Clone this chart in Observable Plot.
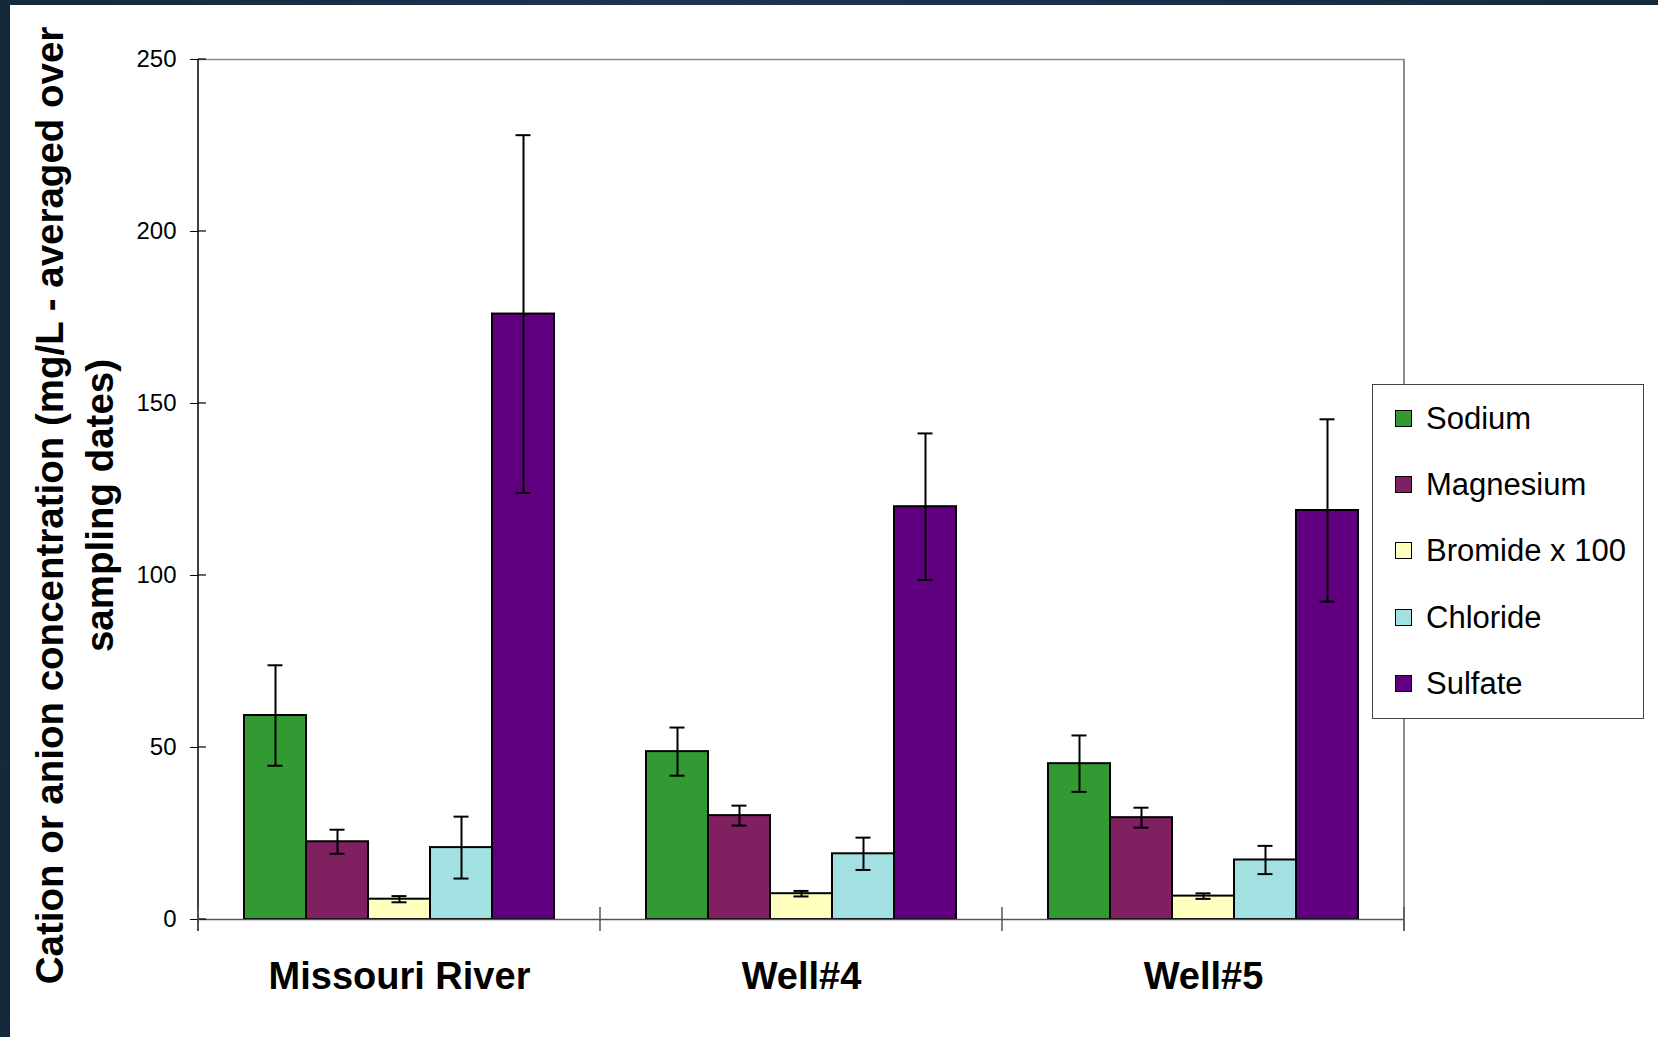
<!DOCTYPE html>
<html><head><meta charset="utf-8">
<script src="https://cdn.jsdelivr.net/npm/d3@7"></script>
<script src="https://cdn.jsdelivr.net/npm/@observablehq/plot@0.6"></script>
<style>
html,body{margin:0;padding:0;}
body{width:1658px;height:1037px;overflow:hidden;background:#1b2e44;font-family:"Liberation Sans",Arial,sans-serif;}
#page{position:relative;width:1658px;height:1037px;background:linear-gradient(90deg,#16283b,#1d3550 40%,#162a3e);}
#paper{position:absolute;left:10px;top:5px;right:0;bottom:0;background:#fff;}
#chart{position:absolute;left:0;top:0;width:1658px;height:1037px;}
#legend{position:absolute;left:1372px;top:384px;width:270px;height:333px;border:1.5px solid #444;background:#fff;}
.row{position:absolute;left:0;height:40px;}
.sw{position:absolute;left:22px;top:11px;width:15px;height:15px;border:1.5px solid #000;}
.lab{position:absolute;left:53px;top:0;line-height:40px;font-size:31px;color:#000;white-space:nowrap;}
</style>
</head><body>
<div id="page"><div id="paper"></div><div id="chart"></div><div id="legend"></div></div>
<script>
const sites = ["Missouri River", "Well#4", "Well#5"];
const ions = ["Sodium", "Magnesium", "Bromide x 100", "Chloride", "Sulfate"];
const colors = ["#339933", "#802060", "#ffffc0", "#a3e0e1", "#600080"];
const missouriRiver = [59.3, 22.6, 5.9, 20.9, 176.0];
const missouriRiverErr = [14.6, 3.5, 0.9, 9.0, 52.0];
const well4 = [48.8, 30.2, 7.5, 19.1, 120.0];
const well4Err = [7.0, 2.9, 0.8, 4.7, 21.3];
const well5 = [45.3, 29.6, 6.8, 17.3, 118.9];
const well5Err = [8.2, 2.9, 0.8, 4.1, 26.5];
const yTicks = [0, 50, 100, 150, 200, 250];
const yTitle1 = "Cation or anion concentration (mg/L - averaged over";
const yTitle2 = "sampling dates)";

(function () {
  const series = [[missouriRiver, missouriRiverErr], [well4, well4Err], [well5, well5Err]];
  const rows = [];
  sites.forEach((s, i) => ions.forEach((ion, j) => {
    const v = series[i][0][j], e = series[i][1][j];
    rows.push({site: s, ion, value: v, lo: v - e, hi: v + e});
  }));

  const plot = Plot.plot({
    width: 1658, height: 1037,
    marginLeft: 198, marginRight: 254, marginTop: 59, marginBottom: 118,
    style: {background: "transparent", fontFamily: "'Liberation Sans', Arial, sans-serif", color: "black", overflow: "visible"},
    fx: {domain: sites, padding: 0, axis: null},
    x: {domain: ions, paddingInner: 0, paddingOuter: 0.735, axis: null},
    y: {domain: [0, 250], axis: null},
    color: {domain: ions, range: colors},
    marks: [
      Plot.ruleY([250], {stroke: "#8c8c8c", strokeWidth: 1.5}),
      Plot.barY(rows, {fx: "site", x: "ion", y: "value", fill: "ion", stroke: "black", strokeWidth: 2}),
      Plot.ruleY([0], {stroke: "#555", strokeWidth: 1.5}),
      Plot.ruleX(rows, {fx: "site", x: "ion", y1: "lo", y2: "hi", stroke: "black", strokeWidth: 2}),
      Plot.tickY(rows, {fx: "site", x: "ion", y: "hi", insetLeft: 23.5, insetRight: 23.5, stroke: "black", strokeWidth: 2}),
      Plot.tickY(rows, {fx: "site", x: "ion", y: "lo", insetLeft: 23.5, insetRight: 23.5, stroke: "black", strokeWidth: 2}),
      Plot.axisY({ticks: yTicks, tickSize: 8, tickPadding: 14, fontSize: 24, label: null, stroke: "black", fill: "black"}),
      Plot.text(sites, {fx: d => d, text: d => d, frameAnchor: "bottom", dy: 69, fontSize: 38, fontWeight: "bold", fill: "black"})
    ]
  });
  document.getElementById("chart").appendChild(plot);

  const svg = d3.select(plot);
  const fxs = plot.scale("fx"), ys = plot.scale("y");
  const xLeft = fxs.apply(sites[0]);
  const xRight = fxs.apply(sites[sites.length - 1]) + fxs.bandwidth;
  const yTop = ys.apply(250), yBase = ys.apply(0);
  const g = svg.append("g");
  g.append("line").attr("x1", xRight).attr("x2", xRight).attr("y1", yTop).attr("y2", yBase + 12).attr("stroke", "#8c8c8c").attr("stroke-width", 2);
  g.append("line").attr("x1", xLeft).attr("x2", xLeft).attr("y1", yTop).attr("y2", yBase + 12).attr("stroke", "#000").attr("stroke-width", 1.5);
  yTicks.forEach(t => g.append("line").attr("x1", xLeft).attr("x2", xLeft + 8).attr("y1", ys.apply(t)).attr("y2", ys.apply(t)).attr("stroke", "#000").attr("stroke-width", 1.2));
  sites.map(s => fxs.apply(s)).concat([xRight]).forEach(x =>
    g.append("line").attr("x1", x).attr("x2", x).attr("y1", yBase - 12).attr("y2", yBase + 12).attr("stroke", "#555").attr("stroke-width", 1.5));
  const cy = 505.5;
  g.append("text").attr("transform", `translate(63,${cy}) rotate(-90)`).attr("text-anchor", "middle")
    .attr("font-size", 38.5).attr("font-weight", "bold").attr("fill", "#000").text(yTitle1);
  g.append("text").attr("transform", `translate(113,${cy}) rotate(-90)`).attr("text-anchor", "middle")
    .attr("font-size", 38.5).attr("font-weight", "bold").attr("fill", "#000").text(yTitle2);

  const color = plot.scale("color");
  const legend = document.getElementById("legend");
  ions.forEach((ion, i) => {
    const r = document.createElement("div");
    r.className = "row";
    r.style.top = (14 + i * 66.2) + "px";
    r.style.width = "100%";
    r.innerHTML = `<div class="sw" style="background:${color.apply(ion)}"></div><div class="lab">${ion}</div>`;
    legend.appendChild(r);
  });
})();
</script>
</body></html>
